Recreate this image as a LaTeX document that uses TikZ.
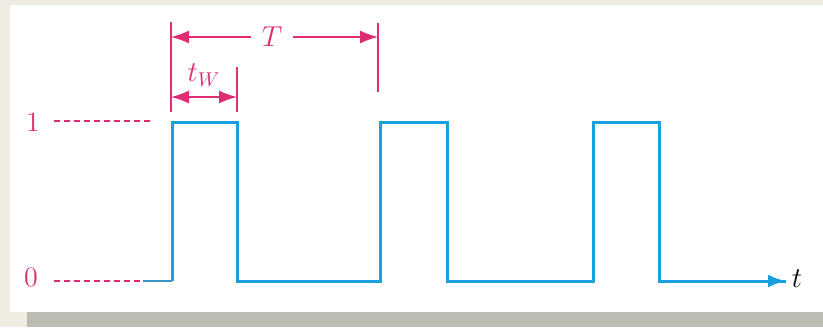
\documentclass[tikz,border=0pt]{standalone}
\usetikzlibrary{arrows.meta,positioning}
\definecolor{pulseblue}{RGB}{25,160,220}
\definecolor{dimpink}{RGB}{222,45,115}
\definecolor{papercream}{RGB}{238,236,224}
\definecolor{shadowgray}{RGB}{188,187,180}
\tikzstyle{signal} = [draw=pulseblue, line width=1.5pt, line join=miter]
\tikzstyle{guide} = [draw=dimpink, line width=0.6pt, dash pattern=on 3pt off 2pt]
\tikzstyle{tick} = [draw=dimpink, line width=0.7pt]
\tikzstyle{dimline} = [draw=dimpink, line width=0.7pt]
\tikzstyle{level} = [text=dimpink, inner sep=1pt, font=\fontsize{14}{16}\selectfont]
\begin{document}
\begin{tikzpicture}[x=0.5pt, y=-0.5pt, >={Latex[length=9pt,width=6.5pt]}]
			% Paper, panel and shadow
			\useasboundingbox (0,0) rectangle (823,327);
			\fill[papercream] (0,0) rectangle (823,327);
			\fill[white] (10,5) rectangle (823,312);
			\fill[shadowgray] (27,312) rectangle (823,327);
			% Place labels
			\node [level] (one) at (33,122) {1};
			\node [level] (zero) at (31,277) {0};
			\node [level] (period) at (272,37) {$T$};
			\node [level] (width) at (204,75) {$t_{W}$};
			\node [inner sep=1pt, font=\fontsize{14}{16}\selectfont] (time) at (797,279) {$t$};
			% Corners of the pulse train
			\coordinate (lead) at (143,281);
			\coordinate (rise-1) at (172,281);
			\coordinate (fall-1) at (237,281);
			\coordinate (rise-2) at (380,281);
			\coordinate (fall-2) at (447,281);
			\coordinate (rise-3) at (593,281);
			\coordinate (fall-3) at (659,281);
			\coordinate (axis-end) at (786,281);
			% Level guides
			\path [guide] (one.east) ++(12,-1) coordinate (one-guide) -- (150,121);
			\path [guide] (zero.east) ++(14,4) coordinate (zero-guide) -- (lead);
			\draw [pulseblue!70!gray, line width=0.6pt] (lead) -- (rise-1);
			% Pulse train
			\path [signal] (rise-1) -- ++(0,-159) -| (fall-1) -- (rise-2)
			-- ++(0,-159) -| (fall-2) -- (rise-3)
			-- ++(0,-159) -| (fall-3) -- (axis-end);
			\path [draw=pulseblue, line width=1.5pt, ->] (fall-3) -- (axis-end);
			% Dimension ticks
			\coordinate (tick-a) at (171,22);
			\coordinate (tick-b) at (237,67);
			\coordinate (tick-c) at (378,23);
			\path [tick] (tick-a) -- ++(0,90);
			\path [tick] (tick-b) -- ++(0,45);
			\path [tick] (tick-c) -- ++(0,69);
			% Period and width arrows
			\path [dimline, ->] (period.west) ++(-8,0) -- (171,37);
			\path [dimline, ->] (period.east) ++(8,0) -- (378,37);
			\path [dimline, <->] (171,97) -- (237,97);
		\end{tikzpicture}
\end{document}
